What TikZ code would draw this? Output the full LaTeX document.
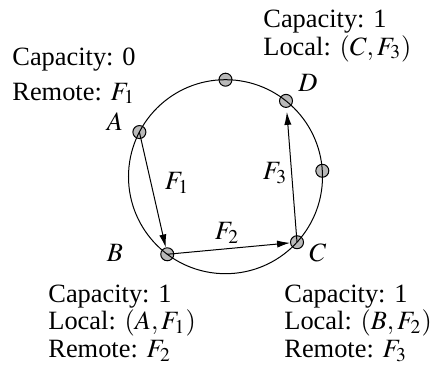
\documentclass[tikz,border=0pt]{standalone}
\usepackage{mathptmx}
\usepackage{fontspec}
\setmainfont{Liberation Serif}
\usetikzlibrary{arrows.meta,calc}

\begin{document}
\begin{tikzpicture}[
    x=0.5pt, y=0.5pt,
    >={Latex[length=6.5pt,width=3.6pt]},
    font=\fontsize{13.2}{14}\selectfont,
    dot/.style={circle, draw, fill=gray!55, line width=0.5pt,
                minimum size=6.5pt, inner sep=0pt},
    ring/.style={line width=0.5pt},
    flow/.style={->, line width=0.5pt},
    info/.style={anchor=base west, align=left, inner sep=0pt},
    tag/.style={inner sep=0pt},
]
% bounding box in image pixels (origin at ring centre)
\useasboundingbox (-225.5,-198.3) rectangle (209.5,176.7);

% === Peers on the ring (drawn first, ring passes over them) ===
\node[dot] (A)   at (152.6:97) {};
\node[dot] (B)   at (233.1:97) {};
\node[dot] (C)   at (-42.5:97) {};
\node[dot] (D)   at (51.4:97)  {};
\node[dot] (top) at (90:97)    {};
\node[dot] (rgt) at (3.5:97)   {};

% === Ring ===
\draw[ring] (0,0) circle[radius=97];

% === Flows ===
\draw[flow] (A.center) -- (B);
\draw[flow] (B.center) -- (C);
\draw[flow, shorten >=2pt] (C.center) -- (D);

% === Peer names ===
\node[tag] (Alab) at (-110.5,54.7)  {$A$};
\node[tag] (Blab) at (-110.5,-76.3) {$B$};
\node[tag] (Clab) at (92.5,-76.3)   {$C$};
\node[tag] (Dlab) at (82.5,93.7)    {$D$};

% === Flow names ===
\node[tag] (f1) at (-48.5,-6.3) {$F_1$};
\node[tag] (f2) at (1.5,-56.3)  {$F_2$};
\node[tag] (f3) at (49.5,3.7)   {$F_3$};

% === Peer state (anchored at the last baseline) ===
\node[info] (infoA) at (-213.5,76.7)
     {Capacity: 0\\[3.5pt] Remote: $F_1$};
\node[info] (infoD) at (37.5,121.7)
     {Capacity: 1\\ Local: $(C,F_3)$};
\node[info] (infoB) at (-177.5,-181.3)
     {Capacity: 1\\ Local: $(A,F_1)$\\ Remote: $F_2$};
\node[info] (infoC) at (58.5,-181.3)
     {Capacity: 1\\ Local: $(B,F_2)$\\ Remote: $F_3$};

\end{tikzpicture}
\end{document}
